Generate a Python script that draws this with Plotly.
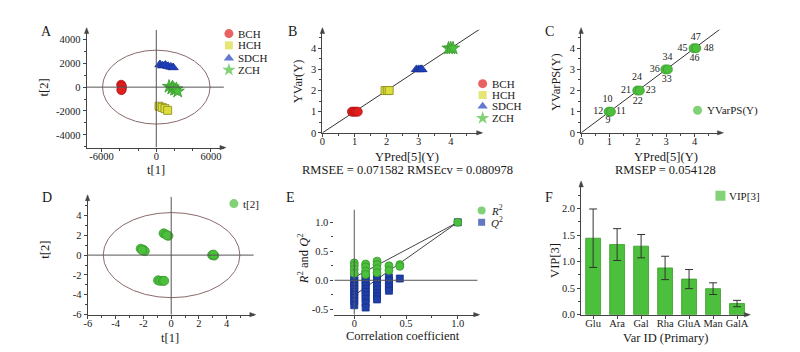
import plotly.graph_objects as go

W, H = 800, 352
def px(x): return x / W
def py(y): return 1 - y / H

FONT = "Liberation Serif"
AX = "#444444"
RED, YEL, BLU, GRN = "#e01f1f", "#dcdc3c", "#1f3fbf", "#4cbf3c"

# ---------- Panel A (PCA scores) ----------
a_bch_t1 = [-3850, -3800, -3760, -3820]
a_bch_t2 = [200, -150, 50, -250]
a_hch_t1 = [300, 650, 950, 1250]
a_hch_t2 = [-1600, -1700, -1800, -1950]
a_sdch_t1 = [400, 700, 1000, 1300, 1600, 1850]
a_sdch_t2 = [1900, 1800, 1850, 1750, 1700, 1650]
a_zch_t1 = [1400, 1700, 1800, 2000, 2200, 2350]
a_zch_t2 = [50, -100, 0, -200, -150, -350]
a_xticks = [-6000, 0, 6000]
a_xtext = ["-6000", "0", "6000"]
a_yticks = [-4000, -2000, 0, 2000, 4000]
a_ytext = ["-4000", "-2000", "0", "2000", "4000"]

# ---------- Panel B (YVar vs YPred) ----------
b_bch_pred = [0.92, 0.98, 1.04, 1.1]
b_bch_obs = [1, 1, 1, 1]
b_hch_pred = [1.95, 2.02, 2.08]
b_hch_obs = [2, 2, 2]
b_sdch_pred = [2.93, 3.0, 3.06, 3.1]
b_sdch_obs = [3, 3, 3, 3]
b_zch_pred = [3.93, 4.0, 4.07]
b_zch_obs = [4, 4, 4]
bc_ticks = [0, 1, 2, 3, 4]
bc_text = ["0", "1", "2", "3", "4"]

# ---------- Panel C (prediction set) ----------
c_pred = [0.97, 1.05, 1.98, 2.07, 2.97, 3.06, 3.97, 4.06]
c_obs = [1, 1, 2, 2, 3, 3, 4, 4]
c_lab_text = ["10", "12", "11", "9", "24", "21", "23", "22", "34", "36", "33", "47", "45", "48", "46"]
c_lab_x = [0.93, 0.6, 1.4, 0.95, 1.97, 1.58, 2.46, 2.0, 3.05, 2.6, 3.02, 4.04, 3.58, 4.5, 4.0]
c_lab_y = [1.58, 1.0, 1.0, 0.56, 2.6, 2.0, 2.0, 1.49, 3.58, 2.98, 2.5, 4.5, 4.0, 4.0, 3.53]

# ---------- Panel D (scores) ----------
d_t1 = [-2.2, -2.0, -1.9, -2.1, -0.55, -0.4, -0.2, -0.3, 2.95, 3.1, 3.05, -0.95, -0.8, -0.6, -0.5]
d_t2 = [0.65, 0.55, 0.4, 0.5, 2.2, 2.1, 1.95, 2.0, 0.0, -0.05, 0.05, -2.55, -2.6, -2.6, -2.6]
d_ticks = [-6, -4, -2, 0, 2, 4]
d_text = ["-6", "-4", "-2", "0", "2", "4"]

# ---------- Panel E (permutation test) ----------
e_r2_x = [0, 0, 0, 0, 0.11, 0.11, 0.11, 0.11, 0.22, 0.22, 0.22, 0.22, 0.335, 0.335, 0.44, 0.44, 1.0]
e_r2_y = [0.3, 0.25, 0.19, 0.12, 0.28, 0.23, 0.16, 0.1, 0.33, 0.27, 0.2, 0.13, 0.25, 0.17, 0.27, 0.24, 1.0]
e_q2_x = [0]*10 + [0.11]*11 + [0.22]*8 + [0.335]*5 + [0.44, 1.0]
e_q2_y = [0.05, 0.0, -0.05, -0.1, -0.15, -0.2, -0.25, -0.3, -0.36, -0.43,
          0.1, 0.05, 0.0, -0.05, -0.1, -0.15, -0.2, -0.26, -0.32, -0.39, -0.47,
          0.05, 0.0, -0.05, -0.1, -0.16, -0.22, -0.28, -0.33,
          0.05, 0.0, -0.06, -0.12, -0.18,
          0.03, 1.0]
e_r2_line_x = [0, 1.0]
e_r2_line_y = [0.05, 1.0]
e_q2_line_x = [0, 1.0]
e_q2_line_y = [-0.26, 1.0]
e_xticks = [0, 0.5, 1.0]
e_xtext = ["0", "0.5", "1.0"]
e_yticks = [-0.5, 0.0, 0.5, 1.0]
e_ytext = ["-0.5", "0.0", "0.5", "1.0"]

# ---------- Panel F (VIP) ----------
f_vars = ["Glu", "Ara", "Gal", "Rha", "GluA", "Man", "GalA"]
f_vip = [1.44, 1.32, 1.29, 0.88, 0.67, 0.49, 0.21]
f_err = [0.55, 0.30, 0.22, 0.22, 0.18, 0.11, 0.06]
f_yticks = [0.0, 0.5, 1.0, 1.5, 2.0]
f_ytext = ["0.0", "0.5", "1.0", "1.5", "2.0"]

fig = go.Figure()

def mk(color, symbol, size=8, edge=None):
    return dict(color=color, symbol=symbol, size=size,
                line=dict(color=edge or color, width=0.8))

# A
fig.add_trace(go.Scatter(x=a_bch_t1, y=a_bch_t2, mode="markers", marker=mk(RED, "circle", 9, "#b01010"), xaxis="x", yaxis="y"))
fig.add_trace(go.Scatter(x=a_hch_t1, y=a_hch_t2, mode="markers", marker=mk(YEL, "square", 8, "#8a8a20"), xaxis="x", yaxis="y"))
fig.add_trace(go.Scatter(x=a_sdch_t1, y=a_sdch_t2, mode="markers", marker=mk(BLU, "triangle-up", 9, "#15308f"), xaxis="x", yaxis="y"))
fig.add_trace(go.Scatter(x=a_zch_t1, y=a_zch_t2, mode="markers", marker=mk(GRN, "star", 10, "#3a9a2e"), xaxis="x", yaxis="y"))

# B
fig.add_trace(go.Scatter(x=[0, 4.95], y=[0, 4.95], mode="lines", line=dict(color="#333", width=1), xaxis="x2", yaxis="y2"))
fig.add_trace(go.Scatter(x=b_bch_pred, y=b_bch_obs, mode="markers", marker=mk(RED, "circle", 9, "#b01010"), xaxis="x2", yaxis="y2"))
fig.add_trace(go.Scatter(x=b_hch_pred, y=b_hch_obs, mode="markers", marker=mk(YEL, "square", 8, "#8a8a20"), xaxis="x2", yaxis="y2"))
fig.add_trace(go.Scatter(x=b_sdch_pred, y=b_sdch_obs, mode="markers", marker=mk(BLU, "triangle-up", 9, "#15308f"), xaxis="x2", yaxis="y2"))
fig.add_trace(go.Scatter(x=b_zch_pred, y=b_zch_obs, mode="markers", marker=mk(GRN, "star", 10, "#3a9a2e"), xaxis="x2", yaxis="y2"))

# C
fig.add_trace(go.Scatter(x=[0, 4.95], y=[0, 4.95], mode="lines", line=dict(color="#333", width=1), xaxis="x3", yaxis="y3"))
fig.add_trace(go.Scatter(x=c_pred, y=c_obs, mode="markers", marker=mk(GRN, "circle", 9, "#3a9a2e"), xaxis="x3", yaxis="y3"))
fig.add_trace(go.Scatter(x=c_lab_x, y=c_lab_y, mode="text", text=c_lab_text,
                         textfont=dict(family=FONT, size=10, color="#222"), xaxis="x3", yaxis="y3"))

# D
fig.add_trace(go.Scatter(x=d_t1, y=d_t2, mode="markers", marker=mk(GRN, "circle", 9, "#3a9a2e"), xaxis="x4", yaxis="y4"))

# E
fig.add_trace(go.Scatter(x=e_r2_line_x, y=e_r2_line_y, mode="lines", line=dict(color="#444", width=1), xaxis="x5", yaxis="y5"))
fig.add_trace(go.Scatter(x=e_q2_line_x, y=e_q2_line_y, mode="lines", line=dict(color="#444", width=1), xaxis="x5", yaxis="y5"))
fig.add_trace(go.Scatter(x=e_q2_x, y=e_q2_y, mode="markers", marker=mk("#1f3fa8", "square", 7, "#15308f"), xaxis="x5", yaxis="y5"))
fig.add_trace(go.Scatter(x=e_r2_x, y=e_r2_y, mode="markers", marker=mk(GRN, "circle", 8, "#3a9a2e"), xaxis="x5", yaxis="y5"))

# F
fig.add_trace(go.Bar(x=f_vars, y=f_vip, width=0.62,
                     marker=dict(color="#4cc03c", line=dict(color="#3a9a2a", width=0.8)),
                     error_y=dict(type="data", array=f_err, color="#333", thickness=1, width=4),
                     xaxis="x6", yaxis="y6"))

# Legend markers on a full-page overlay axis (pixel units)
leg_x = [218, 218, 218, 218, 473, 473, 473, 473, 689, 223, 472, 472, 712]
leg_y = [26, 38, 51, 63, 77, 88.5, 100, 112, 104, 199, 206, 218, 191]
leg_sym = ["circle", "square", "triangle-up", "star", "circle", "square", "triangle-up", "star",
           "circle", "circle", "circle", "square", "square"]
leg_col = [RED, YEL, BLU, GRN, RED, YEL, BLU, GRN, GRN, GRN, GRN, "#1f3fa8", "#4cc03c"]
leg_size = [9, 8, 9, 10, 9, 8, 9, 10, 9, 9, 8, 7, 10]
leg_text = ["BCH", "HCH", "SDCH", "ZCH", "BCH", "HCH", "SDCH", "ZCH", "YVarPS(Y)", "t[2]",
            "<i>R</i><sup>2</sup>", "<i>Q</i><sup>2</sup>", "VIP[3]"]
fig.add_trace(go.Scatter(x=leg_x, y=leg_y, mode="markers",
                         marker=dict(symbol=leg_sym, color=leg_col, size=leg_size, line=dict(width=0)),
                         xaxis="x7", yaxis="y7"))

common = dict(showgrid=False, zeroline=False, showline=True, linecolor=AX, linewidth=1,
              ticks="outside", ticklen=3, tickcolor=AX, tickwidth=1,
              tickfont=dict(family=FONT, size=10.5, color="#1a1a1a"), fixedrange=True)

def minor(d, t0=0):
    return dict(tickmode="linear", tick0=t0, dtick=d, ticks="outside", ticklen=2, tickcolor=AX)

panels = {
    "": dict(dom=(75, 213, 22, 142), xr=[-7640, 7420], yr=[-5070, 4825],
             xt=(a_xticks, a_xtext), yt=(a_yticks, a_ytext), xm=2000, ym=1000),
    "2": dict(dom=(312, 471, 22, 127), xr=[0, 4.93], yr=[0, 4.88],
              xt=(bc_ticks, bc_text), yt=(bc_ticks, bc_text), xm=0.5, ym=0.5),
    "3": dict(dom=(572, 713, 22, 127), xr=[0, 4.95], yr=[0, 4.88],
              xt=(bc_ticks, bc_text), yt=(bc_ticks, bc_text), xm=0.5, ym=0.5),
    "4": dict(dom=(76, 243, 192, 312), xr=[-6.02, 5.95], yr=[-6.02, 5.9],
              xt=(d_ticks, d_text), yt=(d_ticks, d_text), xm=1, ym=1),
    "5": dict(dom=(324, 468, 205, 312), xr=[-0.192, 1.192], yr=[-0.593, 1.22],
              xt=(e_xticks, e_xtext), yt=(e_yticks, e_ytext), xm=0.25, ym=0.25),
    "6": dict(dom=(572, 740, 178, 312), xr=[-0.5, 6.47], yr=[0, 2.48],
              xt=None, yt=(f_yticks, f_ytext), xm=None, ym=0.25),
}

layout = dict(width=W, height=H, margin=dict(l=0, r=0, t=0, b=0),
              paper_bgcolor="white", plot_bgcolor="rgba(0,0,0,0)", showlegend=False,
              font=dict(family=FONT, color="#222"))
shapes = []

def tri(pts):
    d = "M " + " L ".join(f"{px(a):.5f},{py(b):.5f}" for a, b in pts) + " Z"
    return dict(type="path", xref="paper", yref="paper", path=d, fillcolor=AX,
                line=dict(color=AX, width=0.5))

for k, p in panels.items():
    x0, x1, y0, y1 = p["dom"]
    xa = dict(common, domain=[px(x0), px(x1)], range=p["xr"], anchor="y" + k, ticklabelstandoff=-4)
    ya = dict(common, domain=[py(y1), py(y0)], range=p["yr"], anchor="x" + k)
    if p["xt"]:
        xa.update(tickmode="array", tickvals=p["xt"][0], ticktext=p["xt"][1], minor=minor(p["xm"]))
    if p["yt"]:
        ya.update(tickmode="array", tickvals=p["yt"][0], ticktext=p["yt"][1], minor=minor(p["ym"]))
    if k == "5":
        ya.update(showline=False)
    layout["xaxis" + k] = xa
    layout["yaxis" + k] = ya
    # axis-end arrowheads
    shapes.append(tri([(x1 - 4, y1 - 2.2), (x1 + 2, y1), (x1 - 4, y1 + 2.2)]))
    if k != "5":
        shapes.append(tri([(x0 - 2.2, y0 + 4), (x0, y0 - 2), (x0 + 2.2, y0 + 4)]))

layout["xaxis6"].update(type="category")
layout["xaxis7"] = dict(domain=[0, 1], range=[0, W], visible=False, anchor="y7", fixedrange=True)
layout["yaxis7"] = dict(domain=[0, 1], range=[H, 0], visible=False, anchor="x7", fixedrange=True)

fig.update_layout(**layout)

# ellipses, crosshairs
shapes += [
    dict(type="circle", xref="x", yref="y", x0=-5900, x1=5900, y0=-3100, y1=3100,
         line=dict(color="#8a6a6a", width=1)),
    dict(type="line", xref="x", yref="y", x0=0, x1=0, y0=-5070, y1=4825, line=dict(color="#555", width=1)),
    dict(type="line", xref="x", yref="y", x0=-7640, x1=7420, y0=0, y1=0, line=dict(color="#555", width=1)),
    dict(type="circle", xref="x4", yref="y4", x0=-4.9, x1=4.95, y0=-4.3, y1=4.3,
         line=dict(color="#8a6a6a", width=1)),
    dict(type="line", xref="x4", yref="y4", x0=0, x1=0, y0=-6.02, y1=5.9, line=dict(color="#555", width=1)),
    dict(type="line", xref="x4", yref="y4", x0=-6.02, x1=5.95, y0=0, y1=0, line=dict(color="#555", width=1)),
    dict(type="line", xref="x5", yref="y5", x0=0, x1=0, y0=-0.593, y1=1.22, line=dict(color="#555", width=1)),
    dict(type="line", xref="x5", yref="y5", x0=-0.192, x1=1.192, y0=0, y1=0, line=dict(color="#555", width=1)),
]
fig.update_layout(shapes=shapes)

def t(text, x, y, size=12, angle=0, xanchor="center"):
    return dict(text=text, x=px(x), y=py(y), xref="paper", yref="paper", showarrow=False,
                textangle=angle, xanchor=xanchor, yanchor="middle",
                font=dict(family=FONT, size=size, color="#1a1a1a"))

ann = []
# panel letters
for L, (lx, ly) in zip("ABCDEF", [(35, 24), (282, 24), (540, 24), (35, 193), (280, 193), (540, 193)]):
    ann.append(t(L, lx, ly, 14))

# axis titles and captions
ann += [
    t("t[1]", 145, 165, 12.5), t("t[2]", 32, 81, 12.5, angle=-90),
    t("YPred[5](Y)", 397, 152, 12.5), t("RMSEE = 0.071582 RMSEcv = 0.080978", 397, 165, 12.5),
    t("YVar(Y)", 287, 75, 12.5, angle=-90),
    t("YPred[5](Y)", 657, 152, 12.5), t("RMSEP = 0.054128", 657, 165, 12.5),
    t("YVarPS(Y)", 546, 75, 12.5, angle=-90),
    t("t[1]", 159, 336, 12.5), t("t[2]", 33, 246, 12.5, angle=-90),
    t("Correlation coefficient", 393, 334, 12.5),
    t("<i>R</i><sup>2</sup> and <i>Q</i><sup>2</sup>", 292, 255, 12.5, angle=-90),
    t("Var ID (Primary)", 657, 336, 12.5), t("VIP[3]", 545, 257, 12.5, angle=-90),
]
# legend texts
for lt, lx, ly in zip(leg_text, leg_x, leg_y):
    ann.append(t(lt, lx + 7, ly, 11, xanchor="left"))

fig.update_layout(annotations=ann)
fig.write_html("out.html")
